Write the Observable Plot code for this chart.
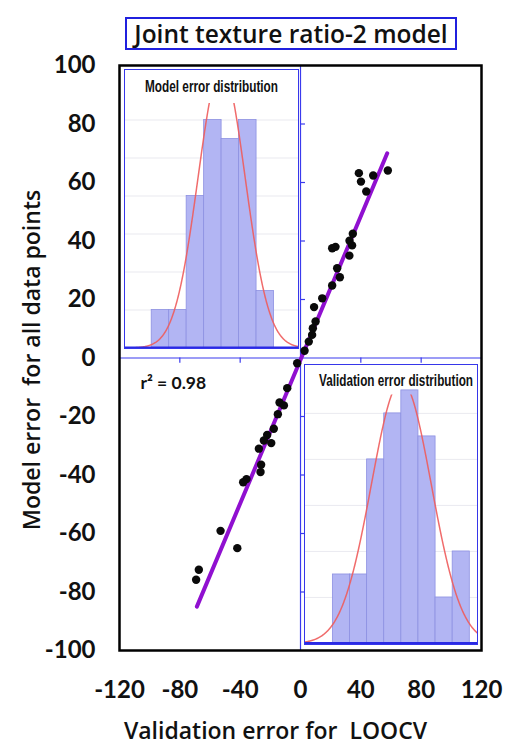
<!DOCTYPE html>
<html>
<head>
<meta charset="utf-8">
<script src="https://cdn.jsdelivr.net/npm/d3@7"></script>
<script src="https://cdn.jsdelivr.net/npm/@observablehq/plot@0.6"></script>
<style>
  html, body { margin: 0; padding: 0; background: #fff; }
  #page { position: relative; width: 513px; height: 746px; overflow: hidden; font-family: "Open Sans", Lato, sans-serif; }
  #main { position: absolute; left: 0; top: 45px; }
  #title { position: absolute; left: 125px; top: 17px; width: 328px; height: 29px; border: 2px solid #2020de;
           display: flex; align-items: center; justify-content: center; font-size: 24.5px; font-weight: 600; color: #111;
           background: #fff; white-space: nowrap; }
  .inset { position: absolute; background: #fff; border: 1.5px solid #3636ea; line-height: 0; }
  .inset svg { display: block; }
</style>
</head>
<body>
<div id="page">
  <div id="main"></div>
  <div id="title">Joint texture ratio-2 model</div>
  <div id="modelInset" class="inset" style="left:124px; top:68.5px;"></div>
  <div id="validInset" class="inset" style="left:304px; top:364px;"></div>
</div>
<script>
// LOOCV validation error (x) against model error (y), one value per data point
const validationError = [38.7, 40.1, 48.2, 57.9, 43.6, 34.7, 32.5, 34.2, 32.4, 21.0, 23.2, 24.3, 26.1, 21.0,
  14.4, 9.0, 10.0, 8.2, 7.7, 5.5, 2.7, -2.2, -8.8, -13.9, -11.0, -15.0, -17.7, -22.1, -24.3, -19.4,
  -27.6, -26.1, -26.5, -35.8, -38.0, -53.0, -41.9, -67.4, -69.2];
const modelError = [63.2, 60.3, 62.4, 64.1, 56.9, 42.5, 40.1, 38.5, 35.0, 37.5, 38.0, 30.7, 27.6, 24.8,
  20.4, 17.4, 12.5, 10.2, 7.9, 5.6, 2.5, -1.8, -10.3, -15.2, -16.2, -19.2, -24.2, -26.3, -28.2, -29.1,
  -31.0, -36.5, -39.0, -41.4, -42.5, -59.1, -65.0, -72.4, -75.8];

// least-squares line end points
const fitLineX = [-68.7, 57.5];
const fitLineY = [-85, 70];
const r2Text = "r\u00b2 = 0.98";

// axis ticks
const xTicks = [-120, -80, -40, 0, 40, 80, 120];
const yTicks = [-100, -80, -60, -40, -20, 0, 20, 40, 60, 80, 100];
const zeroAxisXTicks = [-80, -40, 40, 80];
const zeroAxisYTicks = [-80, -60, -40, -20, 20, 40, 60, 80];

// histogram of model error
const modelBinEdges = [-80, -60, -40, -20, 0, 20, 40, 60];
const modelCounts = [2, 2, 8, 12, 11, 12, 3];
const modelFit = {mean: 0, sd: 27};

// histogram of validation error
const validBinEdges = [-80, -60, -40, -20, 0, 20, 40, 60, 80];
const validCounts = [3, 3, 8, 10, 11, 9, 2, 4];
const validFit = {mean: 0, sd: 35};

const BLUE = "#3a3aee";
const LABEL_FONT = "'Open Sans', Lato, sans-serif";
const points = validationError.map((x, i) => ({x, y: modelError[i]}));
const fitLine = fitLineX.map((x, i) => ({x, y: fitLineY[i]}));

const main = Plot.plot({
  width: 513, height: 701,
  marginLeft: 119, marginRight: 32, marginTop: 20, marginBottom: 96,
  x: {domain: [-120, 120], ticks: xTicks, tickFormat: d => String(d), tickSize: 0, tickPadding: 30, label: null},
  y: {domain: [-100, 100], ticks: yTicks, tickFormat: d => String(d), tickSize: 0, tickPadding: 24, label: null},
  style: {fontFamily: "Lato, 'Open Sans', sans-serif", fontSize: "24px", fontWeight: 700, color: "#111"},
  marks: [
    Plot.ruleY([0], {stroke: BLUE, strokeWidth: 1.2}),
    Plot.ruleX([0], {stroke: BLUE, strokeWidth: 1.2}),
    Plot.ruleY(zeroAxisYTicks, {y: d => d, x1: 0, x2: 3.3, stroke: BLUE, strokeWidth: 1.2}),
    Plot.ruleX(zeroAxisXTicks, {x: d => d, y1: 0, y2: -1.8, stroke: BLUE, strokeWidth: 1.2}),
    Plot.frame({stroke: "#000", strokeWidth: 2.5}),
    Plot.line(fitLine, {x: "x", y: "y", stroke: "#9010d0", strokeWidth: 4}),
    Plot.dot(points, {x: "x", y: "y", r: 4.2, fill: "#0a0a0a"}),
    Plot.text([r2Text], {text: d => d, frameAnchor: "left", dx: 21, dy: 25, textAnchor: "start", lineAnchor: "middle",
      fontSize: 17.5, fontWeight: 700, fill: "#111"}),
    Plot.text(["Validation error for  LOOCV"], {text: d => d, frameAnchor: "bottom", dx: -25, dy: 81,
      textAnchor: "middle", lineAnchor: "middle", fontFamily: LABEL_FONT, fontSize: 23, fontWeight: 600,
      letterSpacing: "1px", fill: "#111"}),
    Plot.text(["Model error  for all data points"], {text: d => d, frameAnchor: "left", dx: -87, dy: 2,
      textAnchor: "middle", lineAnchor: "middle", rotate: -90, fontFamily: LABEL_FONT, fontSize: 23, fontWeight: 600,
      letterSpacing: "1px", fill: "#111"})
  ]
});
document.getElementById("main").append(main);

// histogram with its fitted normal curve
function histogram({edges, counts, fit, domain, width, height, marginTop, yMax, title, titleWidth, titleSize, titleDy, titleDx}) {
  const n = d3.sum(counts);
  const bw = edges[1] - edges[0];
  const bins = counts.map((c, i) => ({x1: edges[i], x2: edges[i + 1], count: c}));
  const curve = d3.range(domain[0], domain[1] + 0.01, 0.5).map(x => ({
    x,
    y: n * bw * Math.exp(-((x - fit.mean) ** 2) / (2 * fit.sd * fit.sd)) / (fit.sd * Math.sqrt(2 * Math.PI))
  }));
  const svg = Plot.plot({
    width, height, marginTop, marginBottom: 1, marginLeft: 0, marginRight: 0,
    x: {domain, axis: null},
    y: {domain: [0, yMax], axis: null},
    style: {background: "white"},
    marks: [
      Plot.ruleY(d3.range(2, yMax, 2), {stroke: "#d6d6e2", strokeOpacity: 0.5}),
      Plot.rectY(bins, {x1: "x1", x2: "x2", y: "count", fill: "#b2b5f3", stroke: "#8d91e2", strokeWidth: 0.8}),
      Plot.line(curve, {x: "x", y: "y", stroke: "#ee5c5c", strokeWidth: 1.5, strokeOpacity: 0.9, clip: true}),
      Plot.ruleY([0], {stroke: "#2a2ae4", strokeWidth: 3}),
      Plot.text([title], {text: d => d, frameAnchor: "top", lineAnchor: "middle", dy: titleDy, dx: titleDx,
        fontFamily: "'Liberation Sans', Arial, sans-serif", fontWeight: 700, fontSize: titleSize, fill: "#111"})
    ]
  });
  // tall, condensed lettering for the panel title: stretch it vertically about its anchor point
  const t = svg.querySelector('g[aria-label="text"] text');
  if (t) {
    const tr = t.getAttribute("transform") || "";
    t.setAttribute("transform", `${tr} scale(1,1.45)`);
    t.setAttribute("textLength", titleWidth);
    t.setAttribute("lengthAdjust", "spacingAndGlyphs");
  }
  return svg;
}

document.getElementById("modelInset").append(histogram({
  edges: modelBinEdges, counts: modelCounts, fit: modelFit, domain: [-110, 88],
  width: 173, height: 278.5, marginTop: 33, yMax: 12.87,
  title: "Model error distribution", titleWidth: 133, titleSize: 11.8, titleDy: -16.5, titleDx: -0.5
}));

document.getElementById("validInset").append(histogram({
  edges: validBinEdges, counts: validCounts, fit: validFit, domain: [-112, 89],
  width: 172, height: 279, marginTop: 29.5, yMax: 10.8,
  title: "Validation error distribution", titleWidth: 154, titleSize: 11.7, titleDy: -14.5, titleDx: 4.5
}));
</script>
</body>
</html>
